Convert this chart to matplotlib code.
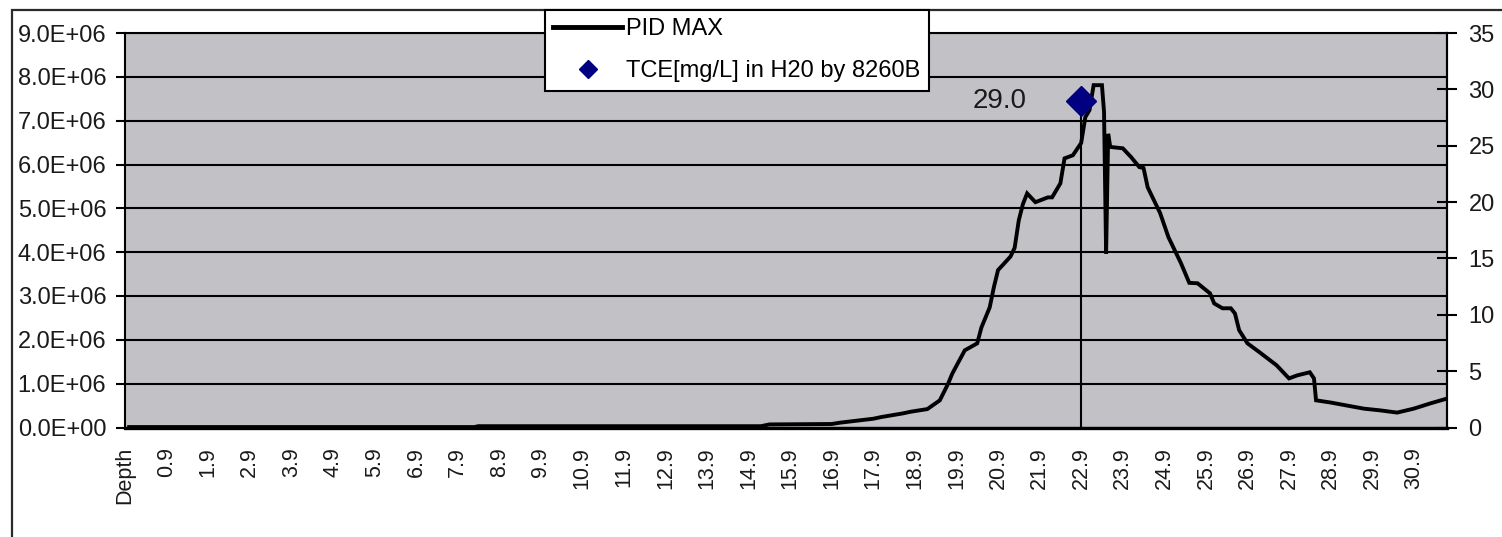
import matplotlib
matplotlib.use("Agg")
import matplotlib.pyplot as plt
from matplotlib.patches import Rectangle
from matplotlib.lines import Line2D
from matplotlib.ticker import FuncFormatter

plt.rcParams['font.family'] = ['Liberation Sans', 'DejaVu Sans']

# PID MAX response along the boring (depth in ft, response in counts)
pid_depth = [0.0, 8.3, 8.4, 15.2, 15.4, 16.9, 17.1, 17.9, 18.1, 18.6, 18.8, 19.2,
             19.5, 19.7, 19.8, 20.1, 20.4, 20.5, 20.7, 20.8, 20.9, 21.2, 21.3,
             21.4, 21.5, 21.6, 21.8, 22.1, 22.2, 22.4, 22.5, 22.7, 22.9, 23.0,
             23.1, 23.2, 23.4, 23.45, 23.5, 23.55, 23.6, 23.9, 24.1, 24.3, 24.4,
             24.5, 24.8, 25.0, 25.3, 25.5, 25.7, 26.0, 26.1, 26.3, 26.5, 26.6,
             26.7, 26.9, 27.2, 27.6, 27.9, 28.1, 28.4, 28.5, 28.55, 28.9, 29.3,
             29.7, 30.1, 30.5, 30.9, 31.3, 31.7]
pid_max = [0.01e6, 0.01e6, 0.03e6, 0.03e6, 0.07e6, 0.08e6, 0.11e6, 0.20e6, 0.24e6,
           0.32e6, 0.36e6, 0.42e6, 0.62e6, 1.00e6, 1.23e6, 1.76e6, 1.92e6, 2.28e6,
           2.74e6, 3.20e6, 3.59e6, 3.90e6, 4.10e6, 4.73e6, 5.10e6, 5.34e6, 5.14e6,
           5.25e6, 5.25e6, 5.57e6, 6.14e6, 6.21e6, 6.49e6, 7.08e6, 7.24e6, 7.81e6,
           7.81e6, 7.20e6, 3.97e6, 6.70e6, 6.40e6, 6.37e6, 6.17e6, 5.94e6, 5.92e6,
           5.48e6, 4.89e6, 4.34e6, 3.75e6, 3.30e6, 3.29e6, 3.06e6, 2.83e6, 2.72e6,
           2.72e6, 2.60e6, 2.22e6, 1.92e6, 1.71e6, 1.42e6, 1.12e6, 1.19e6, 1.26e6,
           1.12e6, 0.62e6, 0.57e6, 0.50e6, 0.43e6, 0.39e6, 0.34e6, 0.43e6, 0.55e6,
           0.66e6]

# Laboratory TCE result
tce_depth = [22.9]
tce_value = [29.0]

# Category labels along the depth axis
x_tick_pos = [-0.1] + [0.9 + i for i in range(31)]
x_tick_labels = ["Depth"] + ["%.1f" % (0.9 + i) for i in range(31)]

W, H = 1502, 537
fig = plt.figure(figsize=(W / 100, H / 100), dpi=100)
fig.patch.set_facecolor('white')

# outer chart frame (left and top edges visible)
fig.patches.append(Rectangle((12 / W, -0.2), 1.2, (1 - 10 / H) + 0.2,
                             transform=fig.transFigure, fill=False,
                             edgecolor='#2a2a2a', linewidth=1.6, zorder=0))

left, right = 125 / W, 1447 / W
bottom, top = 1 - 427.5 / H, 1 - 33 / H
ax = fig.add_axes([left, bottom, right - left, top - bottom])
ax.set_facecolor('#c2c1c5')
ax2 = ax.twinx()

ax.plot(pid_depth, pid_max, color='black', linewidth=2.8, solid_joinstyle='miter',
        zorder=4)

ax.set_xlim(-0.1, 31.7)
ax.set_ylim(0, 9e6)
ax.set_yticks([i * 1e6 for i in range(10)])
ax.yaxis.set_major_formatter(FuncFormatter(lambda v, p: "{:.1E}".format(v)))
ax.grid(axis='y', color='black', linewidth=1.5)
ax.set_axisbelow(True)

ax.set_xticks(x_tick_pos)
ax.set_xticklabels(x_tick_labels, rotation=90, fontsize=15.5, color='#1a1a1a')
ax.tick_params(axis='x', length=0, pad=14)
ax.tick_params(axis='y', direction='out', length=6.5, width=1.5, pad=7,
               labelsize=17, labelcolor='#1a1a1a')

for side in ['left', 'top', 'right']:
    ax.spines[side].set_linewidth(1.5)
    ax.spines[side].set_color('black')
ax.spines['bottom'].set_linewidth(2.4)

ax2.set_ylim(0, 35)
ax2.set_yticks(range(0, 36, 5))
ax2.tick_params(axis='y', direction='inout', length=15, width=1.5, pad=8,
                labelsize=17, labelcolor='#1a1a1a')
ax2.spines['right'].set_linewidth(1.5)
for side in ['left', 'top', 'bottom']:
    ax2.spines[side].set_visible(False)

# drop line from the lab result to the axis, then the marker and its label
ax2.vlines(tce_depth, 0, tce_value, color='black', linewidth=1.5, zorder=3)
ax2.plot(tce_depth, tce_value, linestyle='none', marker='D', markersize=15.5,
         color='#000080', zorder=5)
for d, v in zip(tce_depth, tce_value):
    ax2.annotate("%.1f" % v, (d, v), xytext=(-55, 0), textcoords='offset pixels',
                 ha='right', va='center', fontsize=20, color='#1a1a1a')

handles = [Line2D([], [], color='black', linewidth=3.5),
           Line2D([], [], linestyle='none', marker='D', markersize=9,
                  color='#000080')]
leg = fig.legend(handles, ["PID MAX", "TCE[mg/L] in H20 by 8260B"],
                 loc='upper left', bbox_to_anchor=(545 / W, 1 - 10 / H),
                 frameon=True, fancybox=False, shadow=False, fontsize=17,
                 handlelength=2.9, handletextpad=0.2, borderpad=0.35,
                 labelspacing=0.85, borderaxespad=0)
leg.get_frame().set_edgecolor('black')
leg.get_frame().set_linewidth(1.5)
leg.get_frame().set_facecolor('white')
leg.get_frame().set_alpha(1)

fig.savefig('out.png', dpi=100)
